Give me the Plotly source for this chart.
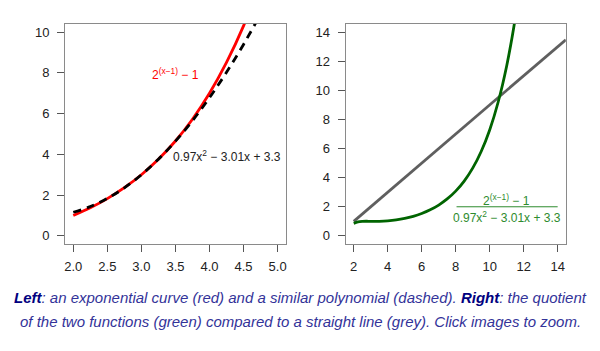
import plotly.graph_objects as go

# Left panel samples
x_left = [2.0, 2.25, 2.5, 2.75, 3.0, 3.25, 3.5, 3.75, 4.0, 4.25, 4.5, 4.75, 5.0]
exp_vals = [1.0, 1.378, 1.828, 2.364, 3.0, 3.757, 4.657, 5.727, 7.0, 8.514, 10.31, 12.45, 15.0]
poly_vals = [1.16, 1.438, 1.838, 2.358, 3.0, 3.763, 4.648, 5.654, 6.78, 8.029, 9.398, 10.89, 12.5]

# Right panel samples
x_right = [2.0, 2.25, 2.5, 2.75, 3.0, 3.5, 4.0, 4.5, 5.0, 5.5, 6.0, 6.5, 7.0, 7.5,
           8.0, 8.5, 9.0, 9.5, 10.0, 10.5, 11.0, 11.5, 12.0]
ratio_vals = [0.862, 0.958, 0.995, 1.003, 1.0, 1.002, 1.032, 1.097, 1.2, 1.344, 1.538,
              1.79, 2.117, 2.537, 3.075, 3.766, 4.655, 5.80, 7.28, 9.20, 11.68, 14.92, 19.16]
line_x = [2, 14.48]
line_y = [1, 13.48]

left_ticks = [2.0, 2.5, 3.0, 3.5, 4.0, 4.5, 5.0]
left_ytick = [0, 2, 4, 6, 8, 10]
right_ticks = [2, 4, 6, 8, 10, 12, 14]
right_ytick = [0, 2, 4, 6, 8, 10, 12, 14]

FONT = "Liberation Sans, Arial, sans-serif"
BOX = "#8a8a8a"

fig = go.Figure()
fig.add_trace(go.Scatter(x=x_left, y=exp_vals, mode="lines", line=dict(color="#ff0000", width=2.8, shape="spline"),
                         xaxis="x", yaxis="y"))
fig.add_trace(go.Scatter(x=x_left, y=poly_vals, mode="lines",
                         line=dict(color="#000000", width=2.8, dash="8px,6px", shape="spline"),
                         xaxis="x", yaxis="y"))
fig.add_trace(go.Scatter(x=line_x, y=line_y, mode="lines", line=dict(color="#5f5f5f", width=2.8),
                         xaxis="x2", yaxis="y2"))
fig.add_trace(go.Scatter(x=x_right, y=ratio_vals, mode="lines", line=dict(color="#006400", width=2.8, shape="spline"),
                         xaxis="x2", yaxis="y2"))

axis_common = dict(showgrid=False, zeroline=False, showline=True, mirror=True, linecolor=BOX, linewidth=1,
                   ticks="outside", ticklen=7, tickcolor="#555555", tickwidth=1,
                   tickfont=dict(family=FONT, size=13, color="#222222"))

fig.update_layout(
    width=600, height=351, margin=dict(l=0, r=0, t=0, b=0),
    paper_bgcolor="white", plot_bgcolor="white", showlegend=False,
    xaxis=dict(domain=[0.1072, 0.4762], range=[1.88, 5.12], tickvals=left_ticks,
               ticktext=[f"{v:.1f}" for v in left_ticks], anchor="y", ticklabelstandoff=3, **axis_common),
    yaxis=dict(domain=[0.3048, 0.9316], range=[-0.4, 10.4], tickvals=left_ytick, anchor="x",
               ticklabelstandoff=5, **axis_common),
    xaxis2=dict(domain=[0.5762, 0.9445], range=[1.52, 14.48], tickvals=right_ticks, anchor="y2",
                ticklabelstandoff=3, **axis_common),
    yaxis2=dict(domain=[0.3048, 0.9316], range=[-0.56, 14.56], tickvals=right_ytick, anchor="x2",
                ticklabelstandoff=5, **axis_common),
)

ann = []
ann.append(dict(x=3.5, y=7.95, xref="x", yref="y", text="2<sup>(x−1)</sup> − 1", showarrow=False,
                font=dict(family=FONT, size=12, color="#ff0000")))
ann.append(dict(x=4.25, y=3.9, xref="x", yref="y", text="0.97x<sup>2</sup> − 3.01x + 3.3", showarrow=False,
                font=dict(family=FONT, size=12, color="#222222")))
ann.append(dict(x=11.0, y=2.45, xref="x2", yref="y2", text="2<sup>(x−1)</sup> − 1", showarrow=False,
                font=dict(family=FONT, size=12, color="#2e8b2e")))
ann.append(dict(x=11.0, y=1.3, xref="x2", yref="y2", text="0.97x<sup>2</sup> − 3.01x + 3.3", showarrow=False,
                font=dict(family=FONT, size=12, color="#2e8b2e")))
ann.append(dict(x=0.5, y=1 - 297 / 351, xref="paper", yref="paper", showarrow=False,
                xanchor="center", yanchor="middle",
                text="<b><i><span style='color:#000080'>Left</span></i></b><i>: an exponential curve (red) and a similar polynomial (dashed). </i>"
                     "<b><i><span style='color:#000080'>Right</span></i></b><i>: the quotient</i>",
                font=dict(family=FONT, size=15, color="#333399")))
ann.append(dict(x=0.5, y=1 - 321 / 351, xref="paper", yref="paper", showarrow=False,
                xanchor="center", yanchor="middle",
                text="<i>of the two functions (green) compared to a straight line (grey). Click images to zoom.</i>",
                font=dict(family=FONT, size=15, color="#333399")))
fig.update_layout(annotations=ann)

fig.add_shape(type="line", xref="x2", yref="y2", x0=8.05, x1=14.0, y0=2.0, y1=2.0,
              line=dict(color="#2e8b2e", width=1))

fig.write_html("out.html")
